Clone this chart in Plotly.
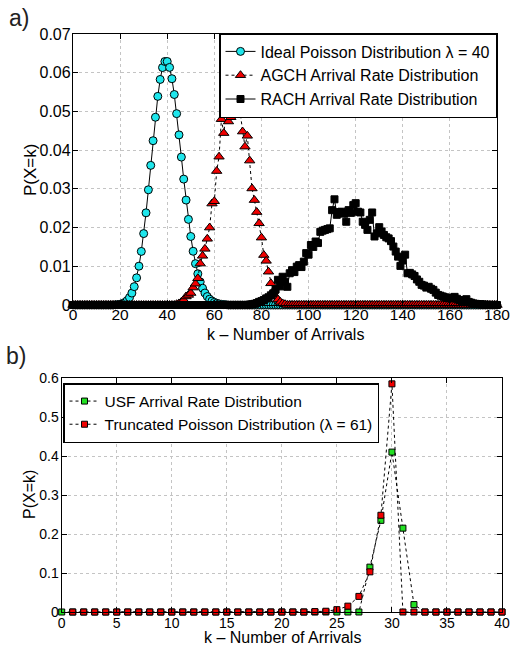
import plotly.graph_objects as go

FONT = "Liberation Sans, Arial, Helvetica, sans-serif"
W, H = 511, 645

# ---------------- data: top panel (a) ----------------
N_TOP = 181
K_TOP = list(range(N_TOP))

POISSON_START = 18
POISSON_SEG = [0.00005, 0.0001, 0.00019, 0.00037, 0.00066, 0.00116, 0.00193, 0.00308,
               0.00474, 0.00702, 0.01003, 0.01384, 0.01845, 0.02381, 0.02976, 0.03607,
               0.04244, 0.04850, 0.05389, 0.05826, 0.06133, 0.0629, 0.0629, 0.06137,
               0.05845, 0.05437, 0.04943, 0.04394, 0.03821, 0.03252, 0.02710, 0.02212,
               0.01770, 0.01388, 0.01068, 0.00806, 0.00597, 0.00434, 0.00310, 0.00218,
               0.00150, 0.00102, 0.00068, 0.00044, 0.00029, 0.00018, 0.00011, 0.00007]

AGCH_START = 44
AGCH_SEG = [0.0002, 0.0004, 0.0008, 0.0013, 0.0022, 0.0026, 0.0031, 0.0045, 0.0055, 0.0069,
            0.0107, 0.0127, 0.0145, 0.0171, 0.0200, 0.0262, 0.0268, 0.0346, 0.0383, 0.0480,
            0.0444, 0.0494, 0.0474, 0.0485, 0.0517, 0.0512, 0.0519, 0.0494, 0.0448, 0.0409,
            0.0437, 0.0373, 0.0301, 0.0271, 0.0240, 0.0211, 0.0174, 0.0129, 0.0114, 0.0086,
            0.0056, 0.0035, 0.0022, 0.0014, 0.0008, 0.0004, 0.0002]

RACH_START = 75
RACH_SEG = [0.0001, 0.0002, 0.0003, 0.0005, 0.0008, 0.0010, 0.0013, 0.0017, 0.0020, 0.0025,
            0.0030, 0.0040, 0.0065, 0.0048, 0.0073, 0.0060, 0.0047, 0.0082, 0.0090, 0.0085,
            0.0099, 0.0103, 0.0098, 0.0112, 0.0134, 0.0130, 0.0155, 0.0150, 0.0164, 0.0160,
            0.0189, 0.0192, 0.0194, 0.0196, 0.0198, 0.0245, 0.0273, 0.0233, 0.0240, 0.0241,
            0.0236, 0.0215, 0.0245, 0.0238, 0.0258, 0.0263, 0.0241, 0.0239, 0.0215, 0.0207,
            0.0194, 0.0220, 0.0239, 0.0177, 0.0185, 0.0201, 0.0190, 0.0181, 0.0175, 0.0172,
            0.0165, 0.0151, 0.0138, 0.0125, 0.0101, 0.0115, 0.0130, 0.0082, 0.0083, 0.0079,
            0.0075, 0.0066, 0.0060, 0.0052, 0.0050, 0.0045, 0.0047, 0.0042, 0.0039, 0.0032,
            0.0026, 0.0024, 0.0022, 0.0020, 0.0018, 0.0017, 0.0019, 0.0021, 0.0016, 0.0013,
            0.0010, 0.0012, 0.0015, 0.0008, 0.0006, 0.0004, 0.0003, 0.0002, 0.0002, 0.0001,
            0.0001]


def pad(start, seg, n):
    vals = [0.0] * start + list(seg)
    return vals + [0.0] * (n - len(vals))


POISSON = pad(POISSON_START, POISSON_SEG, N_TOP)
AGCH = pad(AGCH_START, AGCH_SEG, N_TOP)
RACH = pad(RACH_START, RACH_SEG, N_TOP)

# ---------------- data: bottom panel (b) ----------------
K_USF = list(range(0, 41))
USF = [0, 0, 0, 0, 0, 0, 0, 0, 0, 0,
       0, 0, 0, 0, 0, 0, 0, 0, 0, 0,
       0, 0, 0, 0, 0, 0, 0, 0, 0.115, 0.235,
       0.41, 0.215, 0.019, 0, 0, 0, 0, 0, 0, 0, 0]
K_TRUNC = list(range(1, 41))
TRUNC = [0, 0, 0, 0, 0, 0, 0, 0, 0,
         0, 0, 0, 0, 0, 0, 0, 0, 0, 0,
         0, 0, 0, 0.001, 0.002, 0.006, 0.015, 0.040, 0.103, 0.248,
         0.585, 0, 0, 0, 0, 0, 0, 0, 0, 0, 0]

TOP_XTICKS = list(range(0, 181, 20))
TOP_YTICKS = [0, 0.01, 0.02, 0.03, 0.04, 0.05, 0.06, 0.07]
TOP_YLABELS = ["0", "0.01", "0.02", "0.03", "0.04", "0.05", "0.06", "0.07"]
BOT_XTICKS = list(range(0, 41, 5))
BOT_YTICKS = [0, 0.1, 0.2, 0.3, 0.4, 0.5, 0.6]
BOT_YLABELS = ["0", "0.1", "0.2", "0.3", "0.4", "0.5", "0.6"]

XLABEL = "k – Number of Arrivals"
YLABEL = "P(X=k)"

CYAN = "#1EE6EC"
RED = "#F00000"
GREEN = "#22E022"

fig = go.Figure()

fig.add_trace(go.Scatter(
    x=K_TOP, y=POISSON, mode="lines+markers", name="Ideal Poisson Distribution λ = 40",
    line=dict(color="black", width=1),
    marker=dict(symbol="circle", size=8, color=CYAN, line=dict(color="black", width=1)),
    cliponaxis=False, xaxis="x", yaxis="y", legend="legend"))
fig.add_trace(go.Scatter(
    x=K_TOP, y=AGCH, mode="lines+markers", name="AGCH Arrival Rate Distribution",
    line=dict(color="black", width=1, dash="dot"),
    marker=dict(symbol="triangle-up", size=9, color=RED, line=dict(color="black", width=1)),
    cliponaxis=False, xaxis="x", yaxis="y", legend="legend"))
fig.add_trace(go.Scatter(
    x=K_TOP, y=RACH, mode="lines+markers", name="RACH Arrival Rate Distribution",
    line=dict(color="black", width=1),
    marker=dict(symbol="square", size=7, color="black", line=dict(color="black", width=1)),
    cliponaxis=False, xaxis="x", yaxis="y", legend="legend"))

fig.add_trace(go.Scatter(
    x=K_USF, y=USF, mode="lines+markers", name="USF Arrival Rate Distribution",
    line=dict(color="black", width=1, dash="dot"),
    marker=dict(symbol="square", size=6, color=GREEN, line=dict(color="black", width=1)),
    cliponaxis=False, xaxis="x2", yaxis="y2", legend="legend2"))
fig.add_trace(go.Scatter(
    x=K_TRUNC, y=TRUNC, mode="lines+markers", name="Truncated Poisson Distribution (λ = 61)",
    line=dict(color="black", width=1, dash="dot"),
    marker=dict(symbol="square", size=6, color=RED, line=dict(color="black", width=1)),
    cliponaxis=False, xaxis="x2", yaxis="y2", legend="legend2"))


def ax(**kw):
    d = dict(showline=True, linecolor="black", linewidth=1.3, mirror="ticks",
             ticks="inside", ticklen=5, tickcolor="black", tickwidth=1,
             showgrid=True, gridcolor="#c4c4c4", griddash="dot", gridwidth=1,
             zeroline=False, color="black", automargin=False)
    d.update(kw)
    return d


top_x = [73 / W, 497 / W]
top_y = [(H - 305) / H, (H - 34) / H]
bot_x = [61.7 / W, 502 / W]
bot_y = [(H - 612) / H, (H - 378) / H]


def label(text, xpx, ypx, size, angle=0, color="black"):
    return dict(text=text, x=xpx / W, y=(H - ypx) / H, xref="paper", yref="paper",
                xanchor="center", yanchor="middle", showarrow=False, textangle=angle,
                font=dict(size=size, family=FONT, color=color))


fig.update_layout(
    width=W, height=H, margin=dict(l=0, r=0, t=0, b=0, autoexpand=False),
    paper_bgcolor="white", plot_bgcolor="white",
    font=dict(family=FONT, color="black"),
    xaxis=ax(domain=top_x, range=[0, 180], tickvals=TOP_XTICKS, anchor="y",
             tickfont=dict(size=15.5), ticklabelstandoff=-5),
    yaxis=ax(domain=top_y, range=[0, 0.07], tickvals=TOP_YTICKS, ticktext=TOP_YLABELS,
             anchor="x", tickfont=dict(size=16), ticklabelstandoff=-2),
    xaxis2=ax(domain=bot_x, range=[0, 40], tickvals=BOT_XTICKS, anchor="y2",
              tickfont=dict(size=14), ticklabelstandoff=-2),
    yaxis2=ax(domain=bot_y, range=[0, 0.6], tickvals=BOT_YTICKS, ticktext=BOT_YLABELS,
              anchor="x2", tickfont=dict(size=14), ticklabelstandoff=-1),
    legend=dict(x=497 / W, xanchor="right", y=(H - 33) / H, yanchor="top",
                bgcolor="white", bordercolor="black", borderwidth=1.5,
                font=dict(size=16, family=FONT), itemwidth=30, tracegroupgap=0),
    legend2=dict(x=63 / W, xanchor="left", y=(H - 383) / H, yanchor="top",
                 bgcolor="white", bordercolor="black", borderwidth=1.5,
                 font=dict(size=15.5, family=FONT), itemwidth=30, tracegroupgap=0),
    showlegend=True,
    annotations=[
        label("a)", 19, 18, 23, color="#222"),
        label("b)", 16, 356, 23, color="#222"),
        label(XLABEL, 285, 334, 16),
        label(XLABEL, 282, 637, 16),
        label(YLABEL, 30, 170, 17, angle=-90),
        label(YLABEL, 29, 495, 16, angle=-90),
    ],
)

fig.write_html("out.html", config={"displayModeBar": False},
               post_script="document.body.style.margin='0';document.body.style.overflow='hidden';")
